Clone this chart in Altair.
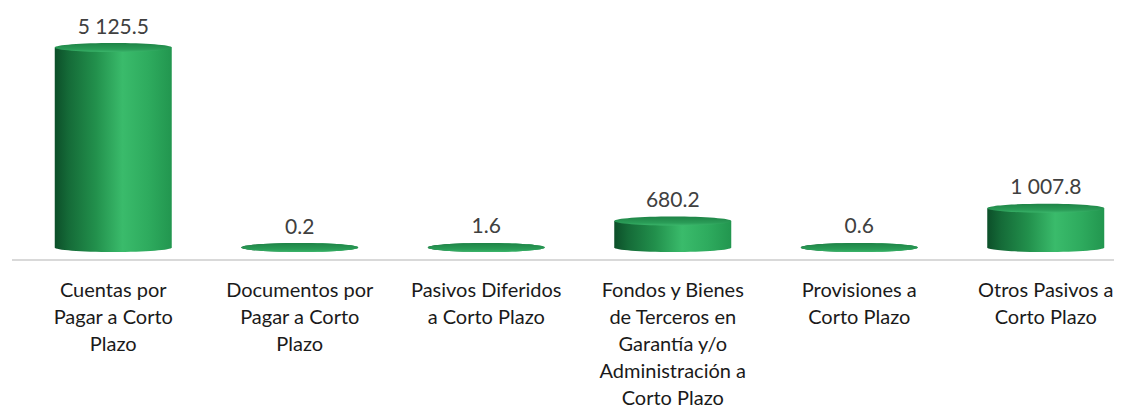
import altair as alt
import pandas as pd

categories = [
    "Cuentas por|Pagar a Corto|Plazo",
    "Documentos por|Pagar a Corto|Plazo",
    "Pasivos Diferidos|a Corto Plazo",
    "Fondos y Bienes|de Terceros en|Garantía y/o|Administración a|Corto Plazo",
    "Provisiones a|Corto Plazo",
    "Otros Pasivos a|Corto Plazo",
]
values = [5125.5, 0.2, 1.6, 680.2, 0.6, 1007.8]

df = pd.DataFrame({"cat": categories, "value": values})

FONT = "Lato"
BAR_W = 117
ry = 4.5 / (BAR_W / 2)
k = 0.5523
ELLIPSE = (
    f"M-1,0 C-1,{-k*ry:.4f} {-k:.4f},{-ry:.4f} 0,{-ry:.4f} "
    f"C{k:.4f},{-ry:.4f} 1,{-k*ry:.4f} 1,0 "
    f"C1,{k*ry:.4f} {k:.4f},{ry:.4f} 0,{ry:.4f} "
    f"C{-k:.4f},{ry:.4f} -1,{k*ry:.4f} -1,0 Z"
)

body_grad = alt.Gradient(
    gradient="linear", x1=0, x2=1, y1=0, y2=0,
    stops=[
        alt.GradientStop(offset=0, color="#0c4f29"),
        alt.GradientStop(offset=0.12, color="#156b38"),
        alt.GradientStop(offset=0.35, color="#22904c"),
        alt.GradientStop(offset=0.58, color="#3abb6b"),
        alt.GradientStop(offset=0.8, color="#2eab5e"),
        alt.GradientStop(offset=1, color="#22964f"),
    ],
)
top_grad = alt.Gradient(
    gradient="linear", x1=0, x2=0, y1=0, y2=1,
    stops=[
        alt.GradientStop(offset=0, color="#1e8346"),
        alt.GradientStop(offset=0.7, color="#2a9c57"),
        alt.GradientStop(offset=1, color="#3ab56a"),
    ],
)

x = alt.X(
    "cat:N",
    sort=categories,
    scale=alt.Scale(range=[0, 1119], paddingInner=0, paddingOuter=0),
    axis=alt.Axis(
        title=None, domain=False, ticks=False, tickSize=0, grid=False,
        labelAngle=0, labelExpr="split(datum.label, '|')",
        labelFont=FONT, labelFontSize=20, labelLineHeight=27,
        labelColor="#1a1a1a", labelPadding=20, labelBaseline="top",
        labelLimit=300,
    ),
)
yscale = alt.Scale(domain=[-320, 6138], nice=False, zero=False)

base = alt.Chart(df).transform_calculate(
    base="0",
    lbl="replace(format(datum.value, ',.1f'), ',', ' ')",
)

body = base.mark_bar(size=BAR_W, fill=body_grad, strokeWidth=0).encode(
    x=x,
    y=alt.Y("value:Q", scale=yscale, axis=None),
    y2=alt.Y2("base:Q"),
)
bottom = base.mark_point(
    shape=ELLIPSE, size=BAR_W * BAR_W, filled=True, fill=body_grad,
    strokeWidth=0, opacity=1,
).encode(x=x, y=alt.Y("base:Q", scale=yscale, axis=None))
top = base.mark_point(
    shape=ELLIPSE, size=BAR_W * BAR_W, filled=True, fill=top_grad,
    strokeWidth=0, opacity=1,
).encode(x=x, y=alt.Y("value:Q", scale=yscale, axis=None))
labels = base.mark_text(
    dy=-20, baseline="middle", font=FONT, fontSize=21, color="#404040"
).encode(x=x, y=alt.Y("value:Q", scale=yscale, axis=None), text="lbl:N")

rule = alt.Chart(pd.DataFrame({"a": [0]})).mark_rule(
    color="#d9d9d9", strokeWidth=2
).encode(x=alt.value(-8), x2=alt.value(1102), y=alt.value(252))

chart = (
    alt.layer(rule, body, bottom, top, labels)
    .properties(
        width=1094, height=252,
        autosize=alt.AutoSizeParams(type="none"),
        padding={"left": 12, "top": 0, "right": 0, "bottom": 148},
    )
    .configure_view(stroke=None)
)

chart.save("out.html", embed_options={"renderer": "svg", "actions": False})
